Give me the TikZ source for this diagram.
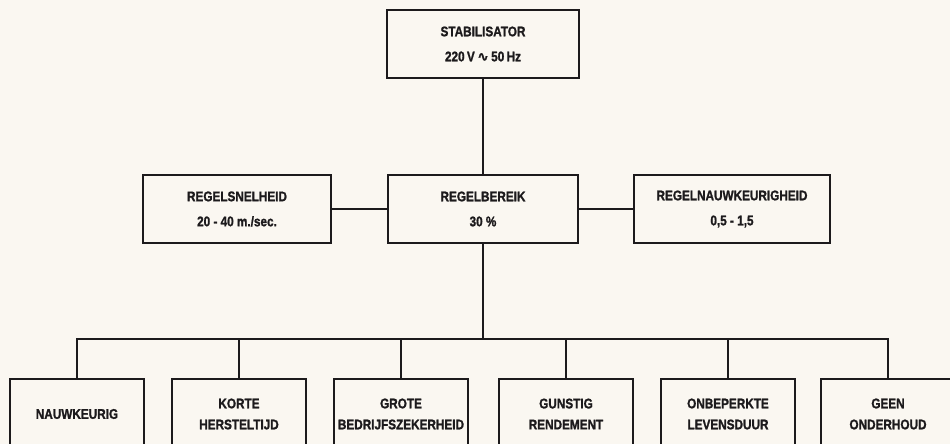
\documentclass[tikz,border=0pt]{standalone}
\usepackage{fontspec}
\setmainfont{Liberation Sans}[FakeStretch=0.84, BoldFeatures={FakeBold=1.3}]
\newfontfamily\symfont{DejaVu Sans}[BoldFeatures={FakeBold=1.3}]
\definecolor{papier}{RGB}{250,247,241}
\definecolor{inkt}{RGB}{28,26,28}
\tikzset{
	blok/.style={draw=inkt, line width=2pt, align=center, inner sep=0pt,
		text=inkt, font=\bfseries\fontsize{14}{25}\selectfont},
	onderblok/.style={blok, anchor=north, minimum width=134pt,
		minimum height=70pt, font=\bfseries\fontsize{14}{21}\selectfont},
	lijn/.style={draw=inkt, line width=2pt}
}
\begin{document}
\begin{tikzpicture}[x=1pt, y=1pt]
	\clip (0,0) rectangle (950,444);
	\fill[papier] (0,0) rectangle (950,444);
	% bovenste blok
	\node[blok, minimum width=192pt, minimum height=68pt] (stab) at (483,400)
		{STABILISATOR\\220\,V\,{\symfont\bfseries ∿}\,50\,Hz};
	% middelste rij
	\node[blok, minimum width=188pt, minimum height=68pt] (snelheid) at (237,235)
		{REGELSNELHEID\\20 - 40 m./sec.};
	\node[blok, minimum width=190pt, minimum height=68pt] (bereik) at (483,235)
		{REGELBEREIK\\30 \%};
	\node[blok, minimum width=196pt, minimum height=68pt] (nauwk) at (732,235)
		{REGELNAUWKEURIGHEID\\0,5 - 1,5};
	\draw[lijn] (stab) -- (bereik);
	\draw[lijn] (snelheid) -- (bereik);
	\draw[lijn] (bereik) -- (nauwk);
	% onderste rij
	\coordinate (rail) at (483,105);
	\foreach \naam/\x/\tekst in {nauw/77/NAUWKEURIG, kort/239/KORTE\\HERSTELTIJD,
		grote/401/GROTE\\BEDRIJFSZEKERHEID, gunstig/566/GUNSTIG\\RENDEMENT,
		onbep/728/ONBEPERKTE\\LEVENSDUUR, geen/888/GEEN\\ONDERHOUD}
		\node[onderblok] (\naam) at (\x,66) {\tekst};
	\draw[lijn] (bereik) -- (rail);
	\draw[lijn] (nauw.north) |- (geen.north |- rail) -- (geen.north);
	\foreach \naam in {kort, grote, gunstig, onbep}
		\draw[lijn] (\naam.north) -- (\naam.north |- rail);
\end{tikzpicture}
\end{document}
